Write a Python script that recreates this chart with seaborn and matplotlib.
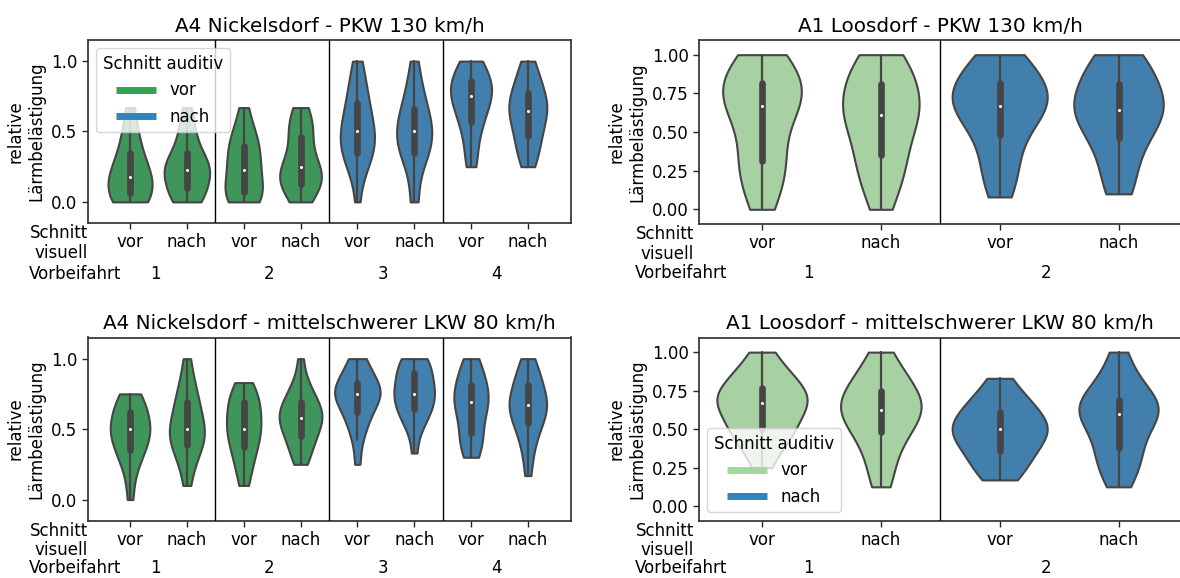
# Violinplots relative Lärmbelästigung, Schnitt visuell / auditiv, 2x2 Panels

import numpy as np
import pandas as pd
import matplotlib
matplotlib.use("Agg")
import matplotlib.pyplot as plt
import matplotlib.transforms as mtransforms
from matplotlib.lines import Line2D
import seaborn as sns

# --- Daten (relative Lärmbelästigung je Proband) ---------------------------

# A4 Nickelsdorf - PKW 130 km/h
a4_pkw_v1_vor = [0, 0, 0, 0, 0, 0.06, 0.1, 0.12, 0.15, 0.17, 0.18, 0.2, 0.22, 0.25, 0.3, 0.35, 0.38, 0.42, 0.5, 0.58, 0.67]
a4_pkw_v1_nach = [0, 0, 0, 0.05, 0.08, 0.1, 0.13, 0.17, 0.2, 0.22, 0.23, 0.25, 0.25, 0.28, 0.3, 0.35, 0.38, 0.45, 0.5, 0.58, 0.67]
a4_pkw_v2_vor = [0, 0, 0, 0, 0.05, 0.07, 0.1, 0.13, 0.17, 0.2, 0.23, 0.27, 0.3, 0.33, 0.37, 0.4, 0.43, 0.47, 0.5, 0.58, 0.67]
a4_pkw_v2_nach = [0, 0, 0.08, 0.1, 0.12, 0.13, 0.17, 0.18, 0.2, 0.22, 0.25, 0.25, 0.3, 0.35, 0.42, 0.46, 0.5, 0.55, 0.58, 0.63, 0.67]
a4_pkw_v3_vor = [0, 0.2, 0.27, 0.3, 0.33, 0.35, 0.4, 0.42, 0.45, 0.47, 0.5, 0.53, 0.55, 0.6, 0.65, 0.7, 0.72, 0.78, 0.85, 0.92, 1.0]
a4_pkw_v3_nach = [0, 0.03, 0.25, 0.3, 0.33, 0.35, 0.4, 0.43, 0.45, 0.48, 0.5, 0.52, 0.55, 0.58, 0.62, 0.66, 0.7, 0.75, 0.8, 0.9, 1.0]
a4_pkw_v4_vor = [0.25, 0.3, 0.4, 0.5, 0.55, 0.57, 0.62, 0.67, 0.7, 0.73, 0.75, 0.77, 0.8, 0.8, 0.83, 0.86, 0.88, 0.92, 0.95, 1.0, 1.0]
a4_pkw_v4_nach = [0.25, 0.3, 0.35, 0.4, 0.45, 0.47, 0.52, 0.57, 0.6, 0.62, 0.645, 0.67, 0.7, 0.7, 0.75, 0.775, 0.8, 0.85, 0.9, 0.95, 1.0]

# A1 Loosdorf - PKW 130 km/h
a1_pkw_v1_vor = [0, 0.08, 0.17, 0.25, 0.3, 0.31, 0.4, 0.5, 0.58, 0.63, 0.67, 0.7, 0.73, 0.75, 0.78, 0.82, 0.85, 0.9, 0.92, 1.0, 1.0]
a1_pkw_v1_nach = [0, 0.1, 0.2, 0.25, 0.3, 0.35, 0.42, 0.5, 0.55, 0.58, 0.61, 0.65, 0.67, 0.7, 0.75, 0.81, 0.85, 0.88, 0.92, 1.0, 1.0]
a1_pkw_v2_vor = [0.08, 0.17, 0.25, 0.33, 0.42, 0.48, 0.55, 0.6, 0.63, 0.65, 0.67, 0.7, 0.73, 0.75, 0.78, 0.82, 0.85, 0.88, 0.92, 1.0, 1.0]
a1_pkw_v2_nach = [0.1, 0.15, 0.25, 0.35, 0.42, 0.46, 0.52, 0.57, 0.6, 0.62, 0.645, 0.67, 0.7, 0.73, 0.77, 0.81, 0.85, 0.9, 0.95, 1.0, 1.0]

# A4 Nickelsdorf - mittelschwerer LKW 80 km/h
a4_lkw_v1_vor = [0, 0.15, 0.25, 0.3, 0.33, 0.35, 0.4, 0.42, 0.45, 0.48, 0.5, 0.5, 0.52, 0.55, 0.58, 0.62, 0.65, 0.67, 0.7, 0.75, 0.75]
a4_lkw_v1_nach = [0.1, 0.2, 0.3, 0.33, 0.37, 0.39, 0.42, 0.45, 0.47, 0.5, 0.5, 0.52, 0.55, 0.6, 0.65, 0.69, 0.72, 0.75, 0.8, 0.9, 1.0]
a4_lkw_v2_vor = [0.1, 0.17, 0.25, 0.3, 0.33, 0.37, 0.42, 0.45, 0.48, 0.5, 0.5, 0.55, 0.58, 0.6, 0.65, 0.69, 0.7, 0.72, 0.75, 0.8, 0.83]
a4_lkw_v2_nach = [0.25, 0.3, 0.35, 0.4, 0.42, 0.45, 0.5, 0.52, 0.55, 0.57, 0.58, 0.6, 0.6, 0.63, 0.67, 0.69, 0.7, 0.75, 0.8, 0.83, 1.0]
a4_lkw_v3_vor = [0.25, 0.42, 0.5, 0.55, 0.58, 0.62, 0.67, 0.7, 0.72, 0.73, 0.75, 0.75, 0.77, 0.8, 0.8, 0.83, 0.85, 0.9, 0.92, 1.0, 1.0]
a4_lkw_v3_nach = [0.33, 0.5, 0.55, 0.58, 0.62, 0.64, 0.67, 0.7, 0.72, 0.75, 0.75, 0.78, 0.8, 0.83, 0.87, 0.9, 0.92, 0.95, 1.0, 1.0, 1.0]
a4_lkw_v4_vor = [0.3, 0.33, 0.38, 0.42, 0.45, 0.475, 0.55, 0.6, 0.63, 0.67, 0.69, 0.7, 0.72, 0.75, 0.78, 0.81, 0.85, 0.88, 0.92, 0.97, 1.0]
a4_lkw_v4_nach = [0.17, 0.3, 0.4, 0.45, 0.5, 0.54, 0.58, 0.6, 0.63, 0.65, 0.67, 0.69, 0.7, 0.72, 0.75, 0.81, 0.83, 0.87, 0.9, 0.95, 1.0]

# A1 Loosdorf - mittelschwerer LKW 80 km/h
a1_lkw_v1_vor = [0.25, 0.35, 0.42, 0.45, 0.48, 0.5, 0.55, 0.58, 0.62, 0.65, 0.67, 0.68, 0.7, 0.72, 0.75, 0.77, 0.8, 0.83, 0.88, 0.92, 1.0]
a1_lkw_v1_nach = [0.125, 0.2, 0.3, 0.38, 0.42, 0.48, 0.52, 0.55, 0.58, 0.6, 0.625, 0.65, 0.67, 0.69, 0.72, 0.75, 0.78, 0.82, 0.87, 0.92, 1.0]
a1_lkw_v2_vor = [0.17, 0.2, 0.25, 0.3, 0.33, 0.355, 0.4, 0.42, 0.45, 0.48, 0.5, 0.5, 0.52, 0.55, 0.58, 0.61, 0.63, 0.67, 0.7, 0.75, 0.83]
a1_lkw_v2_nach = [0.125, 0.2, 0.25, 0.3, 0.35, 0.38, 0.45, 0.5, 0.55, 0.58, 0.6, 0.62, 0.63, 0.65, 0.67, 0.69, 0.72, 0.77, 0.82, 0.9, 1.0]

visuell_labels = ["vor", "nach"]
auditiv_labels = ["vor", "nach"]

GREEN = "#31a354"
LIGHT_GREEN = "#a1d99b"
BLUE = "#3182bd"

# --- Style -----------------------------------------------------------------

sns.set_style("ticks")
plt.rcParams["font.family"] = ["DejaVu Sans"]
plt.rcParams.update({
    "font.size": 12,
    "axes.titlesize": "large",
    "axes.labelsize": 12,
    "xtick.labelsize": 12,
    "ytick.labelsize": 12,
    "text.color": "black",
    "axes.labelcolor": "black",
    "axes.edgecolor": ".2",
    "axes.linewidth": 1.25,
    "xtick.major.size": 4,
    "ytick.major.size": 4,
    "xtick.major.width": 1.0,
    "ytick.major.width": 1.0,
    "xtick.color": ".15",
    "ytick.color": ".15",
    "xtick.labelcolor": "black",
    "ytick.labelcolor": "black",
})

W, H = 1180, 578
fig = plt.figure(figsize=(W / 100, H / 100), dpi=100)


def rect(l, r, t, b):
    return [l / W, 1 - b / H, (r - l) / W, (b - t) / H]


def draw_panel(ax, title, samples, auditiv, palette, xlim, ylim, yticks, num_dx, text_dx, row_dy):
    rows = []
    order = []
    for vb, vis, vals in samples:
        key = f"{vb} {vis}"
        if key not in order:
            order.append(key)
        for v in vals:
            rows.append({"x": key, "Vorbeifahrt": vb, "Schnitt visuell": vis,
                         "Schnitt auditiv": auditiv[vb], "Wert": v})
    df = pd.DataFrame(rows)

    sns.violinplot(data=df, x="x", y="Wert", hue="Schnitt auditiv", order=order,
                   hue_order=auditiv_labels, palette=palette, dodge=False, cut=0,
                   inner="box", density_norm="area", common_norm=True,
                   linewidth=1.5, linecolor=".27", legend=False, ax=ax,
                   inner_kws=dict(box_width=4.8, whis_width=1.6, marker="o",
                                  markersize=2.2, markeredgewidth=0, color=".27"))

    passes = sorted(set(s[0] for s in samples))
    for i in range(1, len(passes)):
        ax.axvline(2 * i - 0.5, color="black", lw=1.0, zorder=3)

    ax.set_xlim(*xlim)
    ax.set_ylim(*ylim)
    ax.set_yticks(yticks)
    ax.set_xticks(range(len(order)))
    ax.set_xticklabels([k.split(" ")[1] for k in order])
    ax.set_xlabel("")
    ax.set_ylabel("relative\nLärmbelästigung")
    ax.set_title(title)

    t_sv = mtransforms.offset_copy(ax.transAxes, fig=fig, x=text_dx, y=-20, units="dots")
    ax.text(0, 0, "Schnitt\nvisuell", transform=t_sv, ha="right", va="center",
            multialignment="right", linespacing=1.1)
    t_vb = mtransforms.offset_copy(ax.transAxes, fig=fig, x=text_dx - 59, y=row_dy, units="dots")
    ax.text(0, 0, "Vorbeifahrt", transform=t_vb, ha="left", va="baseline")
    blend = mtransforms.blended_transform_factory(ax.transData, ax.transAxes)
    t_num = mtransforms.offset_copy(blend, fig=fig, y=row_dy, units="dots")
    for i, vb in enumerate(passes):
        ax.text(2 * i + num_dx, 0, str(vb), transform=t_num, ha="center", va="baseline")


left_xlim = (-0.74, 7.76)
right_xlim = (-0.53, 3.53)

ax_tl = fig.add_axes(rect(88, 571, 40, 223))
draw_panel(ax_tl, "A4 Nickelsdorf - PKW 130 km/h",
           [(1, "vor", a4_pkw_v1_vor), (1, "nach", a4_pkw_v1_nach),
            (2, "vor", a4_pkw_v2_vor), (2, "nach", a4_pkw_v2_nach),
            (3, "vor", a4_pkw_v3_vor), (3, "nach", a4_pkw_v3_nach),
            (4, "vor", a4_pkw_v4_vor), (4, "nach", a4_pkw_v4_nach)],
           {1: "vor", 2: "vor", 3: "nach", 4: "nach"}, {"vor": GREEN, "nach": BLUE},
           left_xlim, (-0.15, 1.15), [0, 0.5, 1.0], 0.45, 0, -56)

ax_tr = fig.add_axes(rect(699, 1181.5, 40, 224))
draw_panel(ax_tr, "A1 Loosdorf - PKW 130 km/h",
           [(1, "vor", a1_pkw_v1_vor), (1, "nach", a1_pkw_v1_nach),
            (2, "vor", a1_pkw_v2_vor), (2, "nach", a1_pkw_v2_nach)],
           {1: "vor", 2: "nach"}, {"vor": LIGHT_GREEN, "nach": BLUE},
           right_xlim, (-0.095, 1.095), [0, 0.25, 0.5, 0.75, 1.0], 0.39, -5, -54)

ax_bl = fig.add_axes(rect(88, 571, 337.5, 520.7))
draw_panel(ax_bl, "A4 Nickelsdorf - mittelschwerer LKW 80 km/h",
           [(1, "vor", a4_lkw_v1_vor), (1, "nach", a4_lkw_v1_nach),
            (2, "vor", a4_lkw_v2_vor), (2, "nach", a4_lkw_v2_nach),
            (3, "vor", a4_lkw_v3_vor), (3, "nach", a4_lkw_v3_nach),
            (4, "vor", a4_lkw_v4_vor), (4, "nach", a4_lkw_v4_nach)],
           {1: "vor", 2: "vor", 3: "nach", 4: "nach"}, {"vor": GREEN, "nach": BLUE},
           left_xlim, (-0.15, 1.15), [0, 0.5, 1.0], 0.45, 0, -52)

ax_br = fig.add_axes(rect(699, 1181.5, 337.5, 520.7))
draw_panel(ax_br, "A1 Loosdorf - mittelschwerer LKW 80 km/h",
           [(1, "vor", a1_lkw_v1_vor), (1, "nach", a1_lkw_v1_nach),
            (2, "vor", a1_lkw_v2_vor), (2, "nach", a1_lkw_v2_nach)],
           {1: "vor", 2: "nach"}, {"vor": LIGHT_GREEN, "nach": BLUE},
           right_xlim, (-0.095, 1.095), [0, 0.25, 0.5, 0.75, 1.0], 0.39, -5, -52)

# Legenden (Schnitt auditiv)
for ax, c_vor, loc in [(ax_tl, GREEN, "upper left"), (ax_br, LIGHT_GREEN, "lower left")]:
    handles = [Line2D([], [], color=c_vor, lw=5, solid_capstyle="butt"),
               Line2D([], [], color=BLUE, lw=5, solid_capstyle="butt")]
    leg = ax.legend(handles, auditiv_labels, title="Schnitt auditiv", loc=loc,
                    fontsize=12, title_fontsize=12, handlelength=2.4, frameon=True)
    leg.set_zorder(5)

fig.savefig("out.png", dpi=100, facecolor="white")
